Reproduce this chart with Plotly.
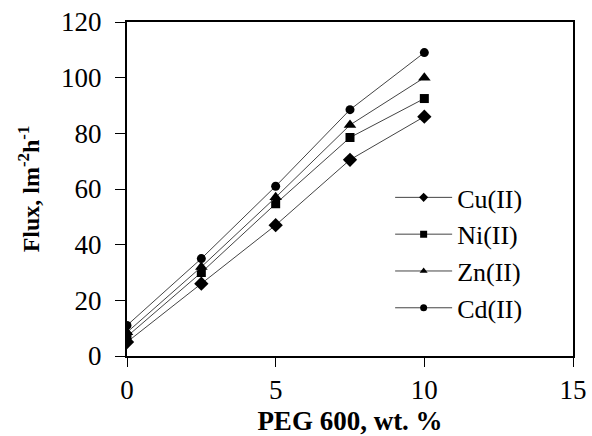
import plotly.graph_objects as go

peg = [0, 2.5, 5, 7.5, 10]
cu = [5, 26, 47, 70.5, 86]
ni = [7, 30, 54.7, 78.5, 92.5]
zn = [8.5, 32, 57, 83, 100]
cd = [11, 35, 61, 88.5, 109]

series = [("Cu(II)", cu, "diamond", 11), ("Ni(II)", ni, "square", 9),
          ("Zn(II)", zn, "triangle-up", 11), ("Cd(II)", cd, "circle", 9)]

FONT = "Liberation Serif"
fig = go.Figure()
for name, ys, sym, sz in series:
    fig.add_trace(go.Scatter(x=peg, y=ys, mode="lines+markers", name=name,
                             showlegend=False,
                             line=dict(color="#444444", width=1),
                             marker=dict(symbol=sym, size=sz, color="black")))
for name, ys, sym, sz in series:
    fig.add_trace(go.Scatter(x=[None], y=[None], mode="lines+markers", name=name,
                             line=dict(color="#444444", width=1),
                             marker=dict(symbol=sym, size=7, color="black")))

fig.update_layout(
    width=592, height=436,
    margin=dict(l=127, r=19, t=22, b=80, autoexpand=False),
    paper_bgcolor="white", plot_bgcolor="white",
    font=dict(family=FONT, color="black", size=26),
    legend=dict(x=0.59, y=0.545, xanchor="left", yanchor="top",
                font=dict(family=FONT, size=26, color="black"),
                bgcolor="rgba(0,0,0,0)", tracegroupgap=0, itemwidth=57),
    xaxis=dict(range=[0, 15], tickvals=[0, 5, 10, 15], ticks="outside",
               ticklen=9, tickcolor="black", showline=True, linecolor="black",
               linewidth=2, mirror=True, showgrid=False, zeroline=False,
               automargin=False,
               tickfont=dict(size=27), ticklabeloverflow="allow",
               title=dict(text="<b>PEG 600, wt. %</b>", font=dict(size=27))),
    yaxis=dict(range=[0, 120], tickvals=[0, 20, 40, 60, 80, 100, 120], ticks="outside",
               ticklen=10, tickcolor="black", showline=True, linecolor="black",
               linewidth=2, mirror=True, showgrid=False, zeroline=False,
               automargin=False,
               tickfont=dict(size=27), ticklabeloverflow="allow", ticklabelstandoff=8,
               title=dict(text="<b>Flux, lm<sup>-2</sup>h<sup>-1</sup></b>", font=dict(size=24))),
)
fig.write_html("out.html", config={"displayModeBar": False},
               post_script="document.body.style.margin='0';")
